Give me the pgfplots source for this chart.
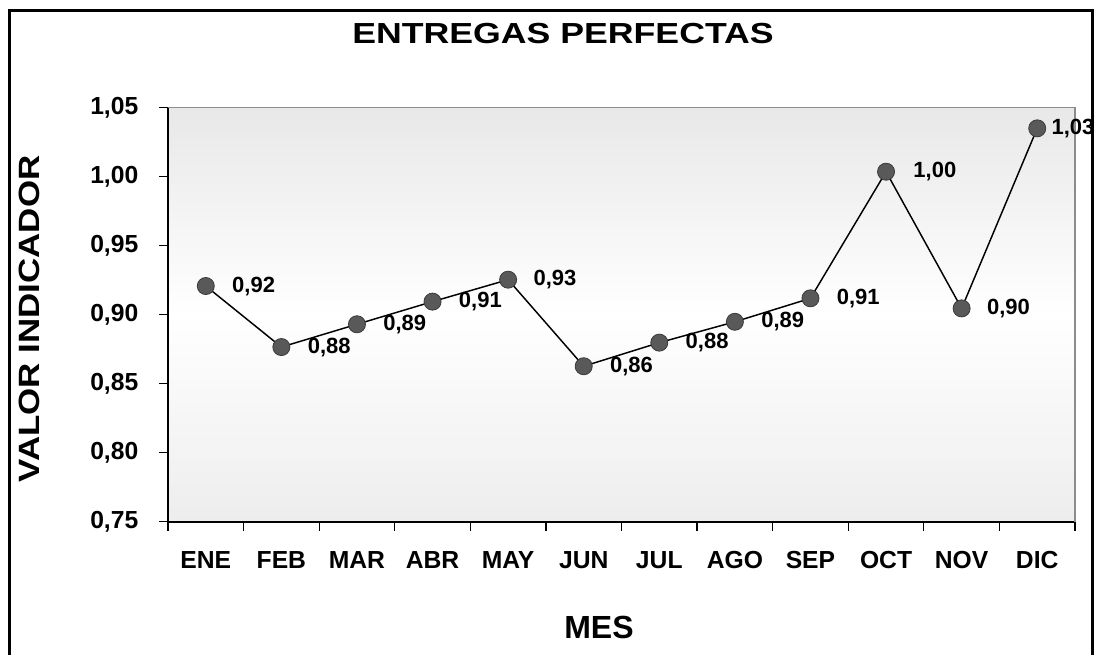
\documentclass[border=0pt]{standalone}
\usepackage{fontspec}
\setmainfont{Liberation Sans}
\usepackage{graphicx}
\usepackage{pgfplots}
\pgfplotsset{compat=1.18}
\usepackage{pgfplotstable}

\pgfplotstableread{
x y lab dx
0.5 0.9207 0,92 26
1.5 0.8765 0,88 26
2.5 0.8930 0,89 26
3.5 0.9094 0,91 26
4.5 0.9253 0,93 25
5.5 0.8626 0,86 26
6.5 0.8797 0,88 26
7.5 0.8948 0,89 26
8.5 0.9118 0,91 26
9.5 1.0035 1,00 27
10.5 0.9045 0,90 25
11.5 1.0349 1,03 14
}\datatable

\definecolor{markfill}{HTML}{595959}
\definecolor{markdraw}{HTML}{3A3A3A}

\begin{document}
\begin{tikzpicture}[x=0.75pt,y=0.75pt]
\begin{axis}[
  at={(126pt,99.225pt)}, anchor=south west,
  scale only axis, width=680.25pt, height=310.65pt,
  xmin=0, xmax=12, ymin=0.75, ymax=1.05,
  clip=false,
  axis x line*=bottom, axis y line*=left,
  axis line style={black, line width=1.2pt},
  axis background/.style={top color=black!9, bottom color=black!7, middle color=white},
  xtick={0,1,...,12},
  x tick label as interval,
  xticklabels={ENE,FEB,MAR,ABR,MAY,JUN,JUL,AGO,SEP,OCT,NOV,DIC},
  ytick={0.75,0.80,0.85,0.90,0.95,1.00,1.05},
  tick align=outside,
  major tick length=6.75pt,
  tick style={black, line width=0.9pt},
  /pgf/number format/assume math mode=true,
  yticklabel={\pgfmathprintnumber[fixed, fixed zerofill, precision=2, use comma]{\tick}},
  ticklabel style={font=\bfseries\fontsize{18.5}{22}\selectfont},
  xticklabel style={yshift=-11.75pt},
  yticklabel style={xshift=-12pt},
]
\draw[black!45, line width=0.8pt] (rel axis cs:0,1) -- (rel axis cs:1,1) -- (rel axis cs:1,0);
\addplot[black, line width=1.1pt,
  mark=*, mark size=6.4pt,
  mark options={fill=markfill, draw=markdraw, line width=0.6pt},
  point meta=explicit symbolic,
  visualization depends on={\thisrow{dx} \as \dx},
  nodes near coords,
  every node near coord/.append style={anchor=west, inner sep=0pt,
     xshift=\dx*0.75pt, font=\bfseries\fontsize{16.5}{19}\selectfont, text=black},
] table[x=x, y=y, meta=lab] {\datatable};
\end{axis}
\node[font=\bfseries\fontsize{21.75}{26}\selectfont] at (563,620.2) {\scalebox{1.23}[1]{ENTREGAS PERFECTAS}};
\node[font=\bfseries\fontsize{24}{28}\selectfont] at (599,26.5) {MES};
\node[font=\bfseries\fontsize{22}{26}\selectfont, rotate=90] at (29,335) {\scalebox{1.19}[1]{VALOR INDICADOR}};
\draw[black, line width=2.25pt] (9,-20) -- (9,643) -- (1092,643) -- (1092,-20);
\pgfresetboundingbox
\useasboundingbox (0,0) rectangle (1099,654);
\end{tikzpicture}
\end{document}
